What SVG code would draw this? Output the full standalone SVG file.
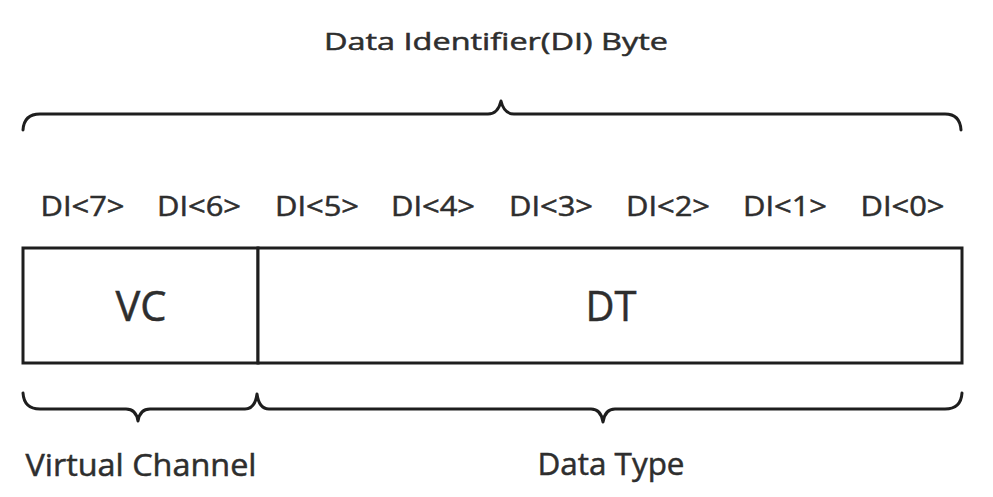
<svg xmlns="http://www.w3.org/2000/svg" width="993" height="497" viewBox="0 0 993 497">
<style>
.t{font-family:"Open Sans","Liberation Sans",sans-serif;fill:#2e2e2e;stroke:#2e2e2e;stroke-width:0.5;text-anchor:middle}
.b{font-size:27px}
.br{fill:none;stroke:#1e1e1e;stroke-width:3;stroke-linecap:round;stroke-linejoin:round}
.box{fill:#fff;stroke:#1e1e1e;stroke-width:3}
</style>
<rect width="993" height="497" fill="#fff"/>
<g id="title"><text class="t" x="496" y="50" font-size="24" textLength="344" lengthAdjust="spacingAndGlyphs">Data Identifier(DI) Byte</text></g>
<g id="connectors">
<path class="br" d="M23,130 Q24,114 40,114 L488,114 Q498,114 501,101 Q504,114 514,114 L945,114 Q960,114 961,130"/>
<path class="br" d="M23,393 Q24,409 40,409 L126,409 Q136,409 138,421 Q140,409 150,409 L245,409 Q255,409 257,394 Q259,409 269,409 L591,409 Q601,409 603,422 Q605,409 615,409 L945,409 Q961,409 962,393"/>
</g>
<g id="bits">
<text class="t b" x="82.5" y="216" textLength="84" lengthAdjust="spacingAndGlyphs">DI&lt;7&gt;</text>
<text class="t b" x="199" y="216" textLength="84" lengthAdjust="spacingAndGlyphs">DI&lt;6&gt;</text>
<text class="t b" x="317" y="216" textLength="84" lengthAdjust="spacingAndGlyphs">DI&lt;5&gt;</text>
<text class="t b" x="433" y="216" textLength="84" lengthAdjust="spacingAndGlyphs">DI&lt;4&gt;</text>
<text class="t b" x="551" y="216" textLength="84" lengthAdjust="spacingAndGlyphs">DI&lt;3&gt;</text>
<text class="t b" x="668" y="216" textLength="84" lengthAdjust="spacingAndGlyphs">DI&lt;2&gt;</text>
<text class="t b" x="785" y="216" textLength="84" lengthAdjust="spacingAndGlyphs">DI&lt;1&gt;</text>
<text class="t b" x="902.5" y="216" textLength="84" lengthAdjust="spacingAndGlyphs">DI&lt;0&gt;</text>
</g>
<g id="vc">
<rect class="box" x="23" y="248" width="235" height="115"/>
<text class="t" x="141" y="321" font-size="42" textLength="51" lengthAdjust="spacingAndGlyphs">VC</text>
</g>
<g id="dt">
<rect class="box" x="258" y="248" width="704" height="115"/>
<text class="t" x="611" y="321" font-size="42" textLength="51" lengthAdjust="spacingAndGlyphs">DT</text>
</g>
<g id="vc-label"><text class="t" x="141" y="476" font-size="31" textLength="231" lengthAdjust="spacingAndGlyphs">Virtual Channel</text></g>
<g id="dt-label"><text class="t" x="611" y="475" font-size="31" textLength="147" lengthAdjust="spacingAndGlyphs">Data Type</text></g>
</svg>
